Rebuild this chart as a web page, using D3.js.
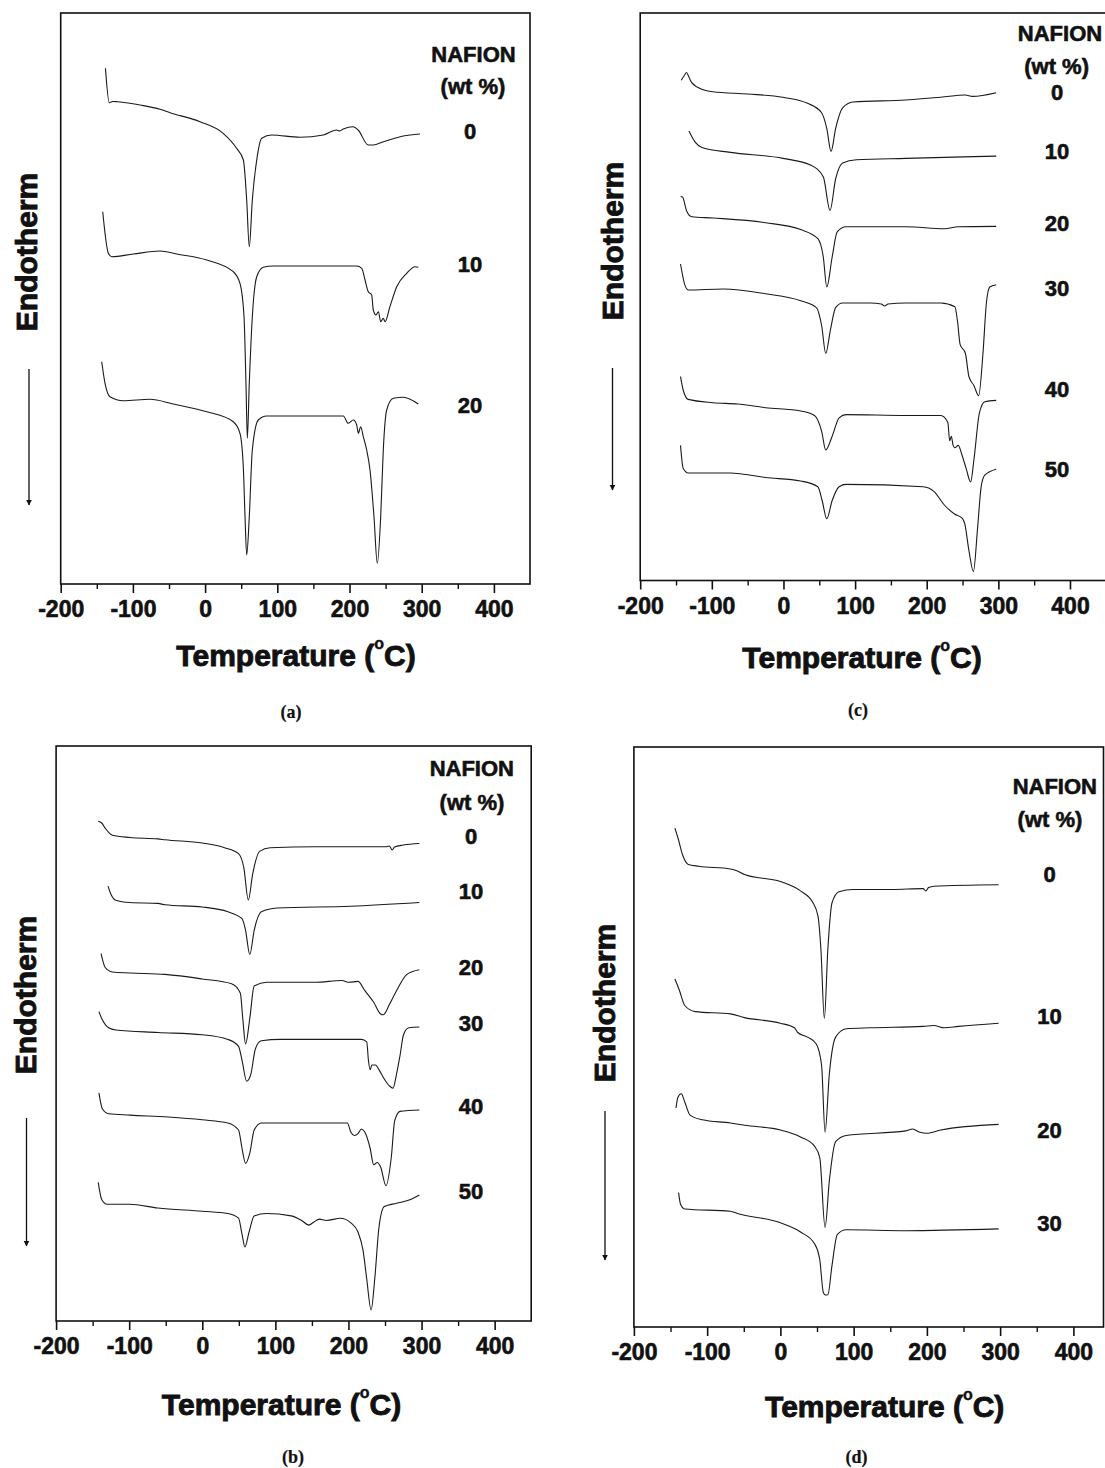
<!DOCTYPE html>
<html>
<head>
<meta charset="utf-8">
<script src="https://cdn.jsdelivr.net/npm/d3@7"></script>
<style>
  body { margin: 0; background: #fff; }
  svg { display: block; background: #fff; }
  text { font-family: "Liberation Sans", Arial, sans-serif; font-weight: bold; fill: #111; stroke: #111; stroke-width: 0.6px; }
  text.cap { stroke-width: 0.2px; }
</style>
</head>
<body>
<svg></svg>
<script>
// temperature axis
const tempTicks = [-200, -100, 0, 100, 200, 300, 400];
const minorTicks = [-150, -50, 50, 150, 250, 350];
const tempDomain = [-200, 450];

// nafion content labels for each panel
const wtA = ['0', '10', '20'];
const wtB = ['0', '10', '20', '30', '40', '50'];
const wtC = ['0', '10', '20', '30', '40', '50'];
const wtD = ['0', '10', '20', '30'];

// DSC traces: [temperature (C), endothermic signal (a.u., grows downward)]
// panel (a)
const a0 = [[-138,55.3],[-132.7,89.7],[-128,88.5],[-122,88.7],[-100,90.7],[-90,92],[-62.5,96.3],[-48.6,99.7],[-7,108.7],[25,120.3],[43.7,135.3],[53,147],[57.6,187],[61.2,233.7],[65.4,187],[71.5,147],[78.4,125.3],[92.2,122],[131.4,124.3],[163.7,122],[182,117],[186,118],[191.4,116],[205,113.7],[212,117],[226,132],[233,132],[247,128.7],[274.5,123],[297.6,121]];
const a10 = [[-141.8,198.7],[-134,240.3],[-129.4,243.7],[-99.4,241],[-62.5,238],[-39.3,241],[2.2,247],[39,258.7],[48.3,270.3],[53.9,303.7],[56.6,370.3],[58.5,425.3],[61.2,370.3],[65.4,303.7],[71.5,263.7],[80.6,254.3],[94.5,253],[210,253],[217,255.3],[221.5,267],[226,278.7],[230.7,282],[233,297],[236.7,302],[240,298.7],[243.2,308.7],[246.8,305.3],[249.2,308.7],[256,293.7],[265.4,273.7],[279.2,260.3],[290.7,253.7],[295.3,254.3]];
const a20 = [[-143.2,348.7],[-138.6,370.3],[-131.7,383.7],[-113.3,387.7],[-76.3,386.3],[-44,391],[2.2,398.7],[39,408.7],[48.3,420.3],[52.9,453.7],[55.3,503.7],[57.6,542],[61.2,503.7],[65.4,437],[73.7,407],[85.3,403],[191.4,403],[198.3,410.3],[205.3,407],[210,412],[212.2,420.3],[215.5,413.7],[219.1,423.7],[223.8,437],[228.4,457],[233.9,503.7],[238.5,550.3],[243.2,503.7],[246.8,437],[251.5,397],[260.7,385.3],[274.5,384.3],[295.3,391]];

// panel (b)
const b0 = [[-142.4,75.2],[-137.6,77],[-132.8,82.2],[-123,89.2],[-99,91.5],[-60.8,92.9],[-51,93.8],[0,97],[30.4,101.7],[49.6,107.7],[56.8,121.7],[63,154],[68.8,128.6],[78.4,105.4],[92.8,101.7],[155,100.8],[251,100.8],[256,100],[259.8,104],[263,101],[275,99],[297,97.5]];
const b10 = [[-129,140.2],[-125.6,147.2],[-118.4,154.2],[-99,156.5],[-60.8,157.4],[-51,158.8],[0,161],[35,165.8],[54.4,172.7],[59.2,184.3],[65,208.5],[71,184.3],[80.8,165.8],[102.4,162],[203,160.2],[297,156.5]];
const b20 = [[-138.5,207.6],[-132.8,221.5],[-123,226],[-99,227],[-51,228.4],[0,233],[40,237.7],[52,247],[55.4,272.5],[59.2,298],[65,272.5],[71,240],[88,236.3],[155,236.3],[191,234.5],[201,236.3],[213,235.4],[222.5,244.7],[234.5,256.3],[244,268],[247.4,268.8],[256,258.6],[265.7,244.7],[280,228.4],[297,223.8]];
const b30 = [[-141.4,265.6],[-137.6,272.5],[-128,281.8],[-118.4,284],[-60.8,286.5],[0,288.8],[35,293.4],[49.6,300.4],[54.4,314.3],[60.7,335.2],[66.4,328.3],[72.7,302.7],[80.8,294.8],[107,293.4],[217.7,293.4],[225,295.8],[227.3,314.3],[229.7,323.6],[232,319],[237,319],[241.7,323.6],[249,333],[256,339.9],[261,342.2],[265.7,328.3],[270.5,309.7],[275.3,288.8],[282.5,281.8],[297,281]];
const b40 = [[-141.4,346.8],[-136.6,363],[-128,367.7],[-99,369.1],[-46.4,371],[0,373.8],[35,377],[49.6,384],[54.4,402.5],[59.2,417.4],[65,407.2],[71,384],[80.8,377],[107,377],[198.5,377],[203.3,386.3],[208,389.5],[213,387.7],[217.7,383],[222.5,386.3],[229.7,402.5],[234.5,418.8],[239.3,416.5],[244,421.1],[251.3,439.7],[258.5,411.8],[263.3,374.7],[270.5,365.4],[297,364]];
const b50 = [[-142.4,436.4],[-137.6,453.6],[-130.4,458.3],[-99,458.3],[-60.8,462],[0,465.2],[35,467.5],[49.6,472.2],[54.4,488.4],[58.3,501],[64,486],[71,469.9],[88,467.5],[121.6,469.9],[136,474.5],[145.6,479.1],[152.8,475.9],[160,473.1],[169.7,474.5],[189,472.2],[203.3,476.8],[213,486],[220,504.7],[224.9,532.5],[231,564],[236,532.5],[241.7,481.5],[249,460.6],[265.7,457.3],[285,453.6],[297,449]];

// panel (c)
const c0 = [[-142.7,67.3],[-138,62],[-135.4,59.5],[-132,64],[-128,69.6],[-113,76.5],[-98.6,78.8],[-49.7,81],[-0.7,84.3],[33.6,90.3],[53,99.5],[60.5,115.6],[66.4,138.5],[72.8,115.6],[82.6,94.9],[97.3,89],[170.7,87],[219.7,84.3],[254,82],[263.8,83.4],[297,79.7]];
const c10 = [[-132,117.9],[-123,129.3],[-113,134.8],[-74,139.4],[-0.7,145.4],[38.5,152.3],[55.6,163.8],[65,197.3],[72.8,166],[82.6,150],[102,146.8],[170.7,145.4],[297,143.1]];
const c20 = [[-143.7,183.5],[-141,184],[-135,198.2],[-128,203.7],[-98.6,205],[-25,209.7],[24,216.6],[48,225.7],[55.6,244],[60.5,274],[68,244],[75,218.9],[87.5,213.8],[170.7,213.8],[224.6,215.7],[244,213.8],[297,213.4]];
const c30 = [[-143.7,251],[-137.8,271.7],[-133,277],[-84,276],[-25,280.8],[24,287.7],[46,294.6],[53.4,313],[59,340.5],[65.4,317.6],[72.8,294.6],[82.6,290],[121.7,290],[136.4,291],[141.3,293],[146,291],[170.7,290],[219.7,290],[239.3,293.7],[243,308.4],[246.6,331.4],[254,340.5],[258.9,363.5],[266,372.7],[272.5,382.8],[278.5,340.5],[283.3,290],[288,274],[297,271.7]];
const c40 = [[-143.7,363.5],[-140,377],[-133,386.4],[-98.6,389.7],[-64,391],[-25,394.7],[24,398],[43.4,402.5],[53.4,418.6],[59,437],[68,423.2],[77.7,404.8],[87.5,401.6],[170.7,402.5],[219.7,402.5],[229.5,409.4],[232,427.8],[234.4,423.2],[236.8,432.4],[239.3,434.7],[244,432.4],[249,441.5],[255,455.3],[261.3,469],[266,446],[273.5,400.2],[281,388.7],[297,387.4]];
const c50 = [[-143.7,432.4],[-140,455.3],[-133,460],[-74,460],[-25,464.5],[24,468],[48,473.7],[54,487.5],[60.5,505.8],[68,487.5],[77.7,473.7],[87.5,471.4],[195,473.7],[210,478.3],[224.6,492],[239.3,501.2],[249,504.9],[253,510.4],[259,538],[265.2,558.6],[271,515],[276,473.7],[281,462.2],[297,456.2]];

// panel (d)
const d0 = [[-144,81.2],[-140,90.5],[-133,109],[-125.8,117.4],[-111.4,119.3],[-68.3,122],[-58.7,124],[-49,127.6],[0,134.6],[27.5,143.9],[44.3,155.5],[51.4,169.4],[55.3,202],[60,271.5],[64.8,202],[70.6,155.5],[80,144.8],[99.3,142.5],[152,142.5],[195,141.6],[198.5,143.9],[202.3,140.6],[209.5,139.2],[298,137.8]];
const d10 = [[-144,232],[-137.7,243.7],[-130.6,258.5],[-116.2,264.6],[-68.3,266.9],[-49,270.6],[0,276.2],[19.2,280.8],[23.7,285.5],[37,290.1],[49,297],[56.2,318],[61,385.3],[66.8,327.3],[75.4,290.1],[89.8,281.8],[123.3,280.8],[195,279.4],[209.5,278.5],[223.8,280.8],[243,279.4],[298,276.2]];
const d20 = [[-142.5,361],[-140,350.5],[-135.3,346.8],[-130.6,355],[-123.4,368.1],[-106.6,372.8],[-68.3,376],[-49,378.3],[0,383],[27.5,389.9],[46.6,399.2],[53.8,410.8],[61,480.5],[66.8,434],[75.4,394.6],[89.8,388.5],[171.2,383.9],[180.7,382],[190.3,385.3],[200,386.2],[219,383],[298,377.4]];
const d30 = [[-139,445.6],[-136.3,457.3],[-130.6,462],[-68.3,464.2],[-58.7,466.5],[0,475.8],[27.5,485],[46.6,496.7],[53.8,513],[58.6,545.5],[61.5,548],[64.8,547.8],[70.6,517.6],[77.8,487.4],[89.8,482.8],[171.2,483.7],[298,481.9]];

let width = 1105;
let height = 1468;

const svg = d3.select('svg')
              .attr('width', width)
              .attr('height', height);

// page layout of the four panels
let panels = [
    {caption: '(a)', left: 60.7, right: 530, frameRight: 530, top: 13, bottom: 584,
     series: [a0, a10, a20], labels: wtA, labelX: 470, labelY: [131, 264, 405],
     head: [473.5, 54], sub: [473, 86], titleX: 296, titleY: 655, capX: 291, capY: 712,
     endo: [26, 252], arrowX: 29, arrow: [369, 505]},
    {caption: '(c)', left: 640.2, right: 1105.8, frameRight: 1106, top: 13, bottom: 580.5,
     series: [c0, c10, c20, c30, c40, c50], labels: wtC, labelX: 1057, labelY: [92, 151.5, 223.6, 288, 389, 469],
     head: [1060, 33], sub: [1056.6, 66.6], titleX: 862, titleY: 656.7, capX: 858, capY: 710,
     endo: [612, 241], arrowX: 612.5, arrow: [368, 490]},
    {caption: '(b)', left: 56.1, right: 531.2, frameRight: 531.2, top: 746, bottom: 1321,
     series: [b0, b10, b20, b30, b40, b50], labels: wtB, labelX: 471, labelY: [836.6, 891, 967.5, 1023, 1106.8, 1191],
     head: [471.8, 768.8], sub: [472, 802.7], titleX: 281.5, titleY: 1404, capX: 293, capY: 1457,
     endo: [25, 995], arrowX: 26.5, arrow: [1118, 1246]},
    {caption: '(d)', left: 633.9, right: 1110, frameRight: 1103.5, top: 747, bottom: 1327,
     series: [d0, d10, d20, d30], labels: wtD, labelX: 1049.5, labelY: [874.6, 1016.2, 1130, 1223.7],
     head: [1054.8, 786.4], sub: [1050, 819.9], titleX: 884.7, titleY: 1406, capX: 856.6, capY: 1457,
     endo: [604, 1003], arrowX: 605, arrow: [1111, 1260]}
];

svg.append('defs')
   .append('marker')
   .attr('id', 'head')
   .attr('viewBox', '0 0 10 10')
   .attr('refX', 9)
   .attr('refY', 5)
   .attr('markerWidth', 6)
   .attr('markerHeight', 8)
   .attr('markerUnits', 'userSpaceOnUse')
   .attr('orient', 'auto')
   .append('path')
   .attr('d', 'M0,0 L10,5 L0,10 Z')
   .attr('fill', '#111');

let drawPanel = (p) => {
    let g = svg.append('g');

    let xScale = d3.scaleLinear()
                   .domain(tempDomain)
                   .range([p.left, p.right]);

    let yScale = d3.scaleLinear()
                   .domain([0, p.bottom - p.top])
                   .range([p.top, p.bottom]);

    let line = d3.line()
                 .x((d) => xScale(d[0]))
                 .y((d) => yScale(d[1]))
                 .curve(d3.curveMonotoneX);

    g.selectAll('path.trace')
     .data(p.series)
     .enter()
     .append('path')
     .attr('class', 'trace')
     .attr('d', line)
     .attr('fill', 'none')
     .attr('stroke', '#1a1a1a')
     .attr('stroke-width', 1.1);

    // frame
    g.append('rect')
     .attr('x', p.left)
     .attr('y', p.top)
     .attr('width', p.frameRight - p.left)
     .attr('height', p.bottom - p.top)
     .attr('fill', 'none')
     .attr('stroke', '#111')
     .attr('stroke-width', 1.6);

    let xAxis = d3.axisBottom(xScale)
                  .tickValues(tempTicks)
                  .tickFormat((d) => String(d))
                  .tickSize(9)
                  .tickSizeOuter(0)
                  .tickPadding(8);

    let minorAxis = d3.axisBottom(xScale)
                      .tickValues(minorTicks)
                      .tickFormat('')
                      .tickSize(5)
                      .tickSizeOuter(0);

    let ax = g.append('g')
              .attr('transform', 'translate(0, ' + p.bottom + ')')
              .call(xAxis);
    ax.select('.domain').remove();
    ax.selectAll('line').attr('stroke', '#111').attr('stroke-width', 1.6);
    ax.selectAll('text')
      .style('font-size', '23px')
      .attr('fill', '#111');
    ax.attr('font-family', null).attr('font-size', null);

    let mx = g.append('g')
              .attr('transform', 'translate(0, ' + p.bottom + ')')
              .call(minorAxis);
    mx.select('.domain').remove();
    mx.selectAll('line').attr('stroke', '#111').attr('stroke-width', 1.4);

    // axis title with superscript degree
    let title = g.append('text')
                 .attr('x', p.titleX)
                 .attr('y', p.titleY)
                 .attr('text-anchor', 'middle')
                 .attr('dominant-baseline', 'central')
                 .style('font-size', '30px')
                 .style('stroke-width', '0.9px');
    title.append('tspan').text('Temperature (');
    title.append('tspan').text('o').style('font-size', '16px').style('stroke-width', '0.4px').attr('dy', -12);
    title.append('tspan').text('C)').attr('dy', 12);

    // panel caption
    g.append('text')
     .attr('class', 'cap')
     .attr('x', p.capX)
     .attr('y', p.capY)
     .attr('text-anchor', 'middle')
     .attr('dominant-baseline', 'central')
     .style('font-family', '"Liberation Serif", "Times New Roman", serif')
     .style('font-size', '18px')
     .text(p.caption);

    // y label and arrow
    g.append('text')
     .attr('transform', 'translate(' + (p.endo[0] + 10.7) + ', ' + p.endo[1] + ') rotate(-90)')
     .attr('text-anchor', 'middle')
     .style('font-size', '30px')
     .style('stroke-width', '0.9px')
     .text('Endotherm');

    g.append('line')
     .attr('x1', p.arrowX)
     .attr('x2', p.arrowX)
     .attr('y1', p.arrow[0])
     .attr('y2', p.arrow[1])
     .attr('stroke', '#111')
     .attr('stroke-width', 1.3)
     .attr('marker-end', 'url(#head)');

    // legend
    g.append('text')
     .attr('x', p.head[0])
     .attr('y', p.head[1])
     .attr('text-anchor', 'middle')
     .attr('dominant-baseline', 'central')
     .style('font-size', '22px')
     .text('NAFION');

    g.append('text')
     .attr('x', p.sub[0])
     .attr('y', p.sub[1])
     .attr('text-anchor', 'middle')
     .attr('dominant-baseline', 'central')
     .style('font-size', '22px')
     .text('(wt %)');

    g.selectAll('text.wt')
     .data(p.labels)
     .enter()
     .append('text')
     .attr('class', 'wt')
     .attr('x', p.labelX)
     .attr('y', (d, i) => p.labelY[i])
     .attr('text-anchor', 'middle')
     .attr('dominant-baseline', 'central')
     .style('font-size', '22px')
     .text((d) => d);
}

panels.forEach(drawPanel);
</script>
</body>
</html>
